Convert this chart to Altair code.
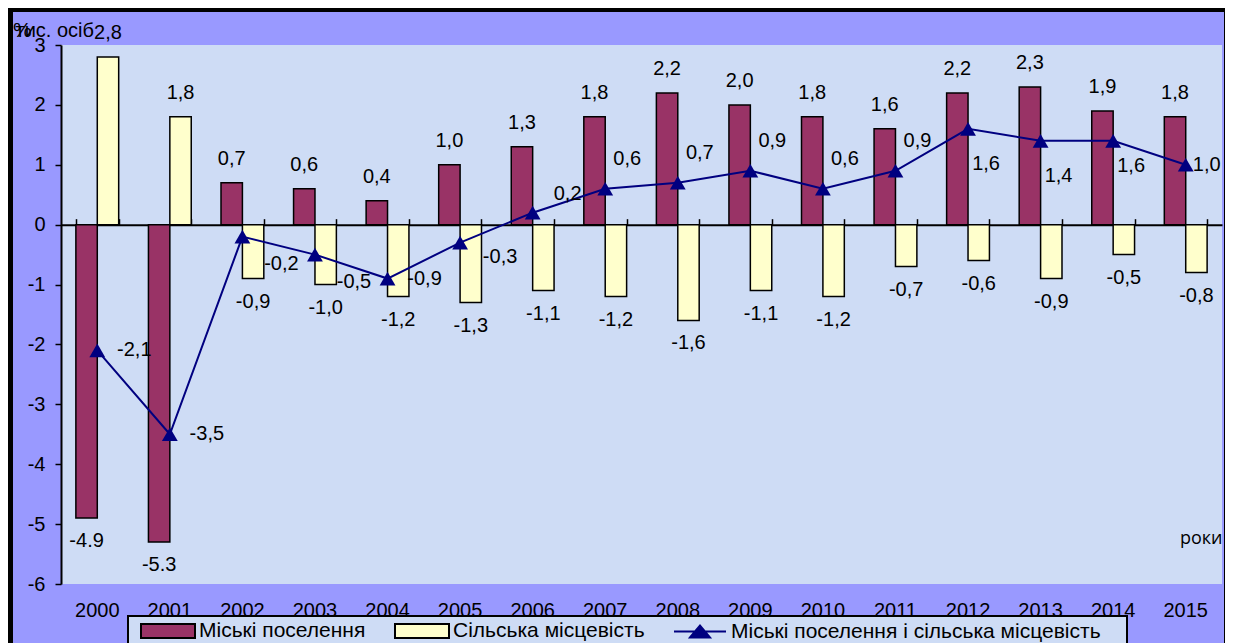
import altair as alt
import pandas as pd

# ---------------- data ----------------
years = ["2000", "2001", "2002", "2003", "2004", "2005", "2006", "2007",
         "2008", "2009", "2010", "2011", "2012", "2013", "2014", "2015"]
urban = [-4.9, -5.3, 0.7, 0.6, 0.4, 1.0, 1.3, 1.8, 2.2, 2.0, 1.8, 1.6, 2.2, 2.3, 1.9, 1.8]
urban_labels = ["-4.9", "-5.3", "0,7", "0,6", "0,4", "1,0", "1,3", "1,8",
                "2,2", "2,0", "1,8", "1,6", "2,2", "2,3", "1,9", "1,8"]
rural = [2.8, 1.8, -0.9, -1.0, -1.2, -1.3, -1.1, -1.2, -1.6, -1.1, -1.2, -0.7, -0.6, -0.9, -0.5, -0.8]
rural_labels = ["2,8", "1,8", "-0,9", "-1,0", "-1,2", "-1,3", "-1,1", "-1,2",
                "-1,6", "-1,1", "-1,2", "-0,7", "-0,6", "-0,9", "-0,5", "-0,8"]
total = [-2.1, -3.5, -0.2, -0.5, -0.9, -0.3, 0.2, 0.6, 0.7, 0.9, 0.6, 0.9, 1.6, 1.4, 1.4, 1.0]
total_labels = ["-2,1", "-3,5", "-0,2", "-0,5", "-0,9", "-0,3", "0,2", "0,6",
                "0,7", "0,9", "0,6", "0,9", "1,6", "1,4", "1,6", "1,0"]
total_label_place = ["r", "r", "dr", "dr", "r", "rd", "ru", "ur",
                     "ur", "ur", "ur", "ur", "d", "d", "dd", "e"]
series_names = ["Міські поселення", "Сільська місцевість",
                "Міські поселення і сільська місцевість"]
y_ticks = [-6, -5, -4, -3, -2, -1, 0, 1, 2, 3]

# ---------------- styles ----------------
colors = ["#993366", "#FFFFCC", "#000080"]
PLOT_BG = "#cedcf5"
FRAME_BG = "#9999FF"
FONT = "Liberation Sans"
W, H = 1161, 539
PAD_L, PAD_T, PAD_R, PAD_B = 53, 37, 3, 59
placements = {"r": (37, 0), "dr": (39, 27), "rd": (40, 14), "ru": (35, -19),
              "ur": (22, -30), "d": (18, 35), "dd": (18, 25), "e": (21, 0)}

bars_df = pd.DataFrame({
    "year": years * 2,
    "series": [series_names[0]] * len(years) + [series_names[1]] * len(years),
    "value": urban + rural,
    "label": urban_labels + rural_labels,
})
line_df = pd.DataFrame({"year": years, "value": total, "label": total_labels,
                        "place": total_label_place})

xscale = alt.Scale(domain=years, paddingInner=0.41, paddingOuter=0.205)
yscale = alt.Scale(domain=[-6, 3], nice=False)
offscale = alt.Scale(domain=series_names[:2], paddingInner=0, paddingOuter=0)

x_bottom = alt.X("year:N", scale=xscale, axis=alt.Axis(
    orient="bottom", domain=False, ticks=False, labelAngle=0, labelFontSize=20,
    labelFont=FONT, labelColor="black", labelPadding=16, grid=False,
    title="роки", titleX=W, titleY=-46, titleAlign="right", titleBaseline="middle",
    titleFont="Open Sans", titleFontSize=18, titleFontWeight="normal", titleColor="black"))
x_top = alt.X("year:N", scale=xscale, axis=alt.Axis(
    orient="top", offset=-H * 3 / 9, labels=False, domain=True, domainColor="black",
    domainWidth=2, ticks=True, tickColor="black", tickWidth=1.5, tickSize=6,
    tickBand="extent", title=None, grid=False))
x_none = alt.X("year:N", scale=xscale, axis=None)
y_axis = alt.Y("value:Q", scale=yscale, stack=None, axis=alt.Axis(
    orient="left", values=y_ticks, labelExpr="datum.value + ''", domain=True,
    domainColor="black", domainWidth=2, ticks=True,
    tickColor="black", tickSize=6, tickWidth=1.5, labels=True, labelFontSize=20,
    labelFont=FONT, labelColor="black", labelPadding=10, grid=False,
    title="тис. осіб", titleAngle=0, titleX=-46, titleY=-9, titleAlign="left",
    titleBaseline="alphabetic", titleFont=FONT, titleFontSize=20,
    titleFontWeight="normal", titleColor="black"))
y_none = alt.Y("value:Q", scale=yscale, stack=None, axis=None)

legend = alt.Legend(
    orient="none", legendX=79, legendY=575, direction="horizontal", title=None,
    padding=0, symbolSize=400, symbolStrokeWidth=2, symbolOffset=17, labelOffset=20,
    columnPadding=25, labelFont=FONT, labelFontSize=21, labelColor="black",
    labelLimit=700, symbolOpacity=1,
    symbolType={"expr": "datum.index == 2 ? 'M-2.6,0H2.6M-1,0.6L0,-0.6L1,0.6Z' : 'M-2.7,-0.7H2.7V0.7H-2.7Z'"},
    symbolStrokeColor={"expr": "datum.index == 2 ? '#000080' : '#000000'"})

one = alt.Data(values=[{"k": 1}])

frame = alt.Chart(one).mark_rect(fillOpacity=0, stroke="black", strokeWidth=5).encode(
    x=alt.value(2.5 - PAD_L), x2=alt.value(W + PAD_R + 1.5), y=alt.value(1.5 - PAD_T),
    y2=alt.value(700))
legend_box = alt.Chart(one).mark_rect(fill=PLOT_BG, stroke="black", strokeWidth=2).encode(
    x=alt.value(67), x2=alt.value(1066), y=alt.value(571), y2=alt.value(640))

bars = alt.Chart(bars_df).mark_bar(stroke="black", strokeWidth=1.5).encode(
    x=x_bottom, xOffset=alt.XOffset("series:N", scale=offscale), y=y_axis,
    fill=alt.Fill("series:N", scale=alt.Scale(domain=series_names, range=colors),
                  legend=legend))

bar_text_pos = alt.Chart(bars_df).transform_filter("datum.value >= 0").mark_text(
    font=FONT, fontSize=20, color="black", baseline="middle", dy=-24).encode(
    x=x_none, xOffset=alt.XOffset("series:N", scale=offscale), y=y_none, text="label:N")
bar_text_neg = alt.Chart(bars_df).transform_filter("datum.value < 0").mark_text(
    font=FONT, fontSize=20, color="black", baseline="middle", dy=23).encode(
    x=x_none, xOffset=alt.XOffset("series:N", scale=offscale), y=y_none, text="label:N")

line = alt.Chart(line_df).mark_line(color="#000080", strokeWidth=2).encode(x=x_top, y=y_none)
points = alt.Chart(line_df).mark_point(shape="triangle-up", filled=True, size=250,
                                       color="#000080", opacity=1).encode(x=x_none, y=y_none)

line_texts = []
for key, (dx, dy) in placements.items():
    line_texts.append(
        alt.Chart(line_df).transform_filter(alt.datum.place == key).mark_text(
            font=FONT, fontSize=20, color="black", baseline="middle", align="center",
            dx=dx, dy=dy).encode(x=x_none, y=y_none, text="label:N"))

percent = alt.Chart(one).mark_text(text="%", font=FONT, fontSize=21, color="black",
                                   align="left", baseline="alphabetic").encode(
    x=alt.value(-48), y=alt.value(-8))

chart = alt.layer(frame, legend_box, bars, line, points, bar_text_pos, bar_text_neg,
                  *line_texts, percent).resolve_axis(
    x="independent", y="independent").properties(
    width=W, height=H,
    autosize=alt.AutoSizeParams(type="none"),
    padding={"left": PAD_L, "top": PAD_T, "right": PAD_R, "bottom": PAD_B},
    background=FRAME_BG,
).configure_view(fill=PLOT_BG, strokeWidth=0)

chart.save("out.html", embed_options={"renderer": "svg", "actions": False})
